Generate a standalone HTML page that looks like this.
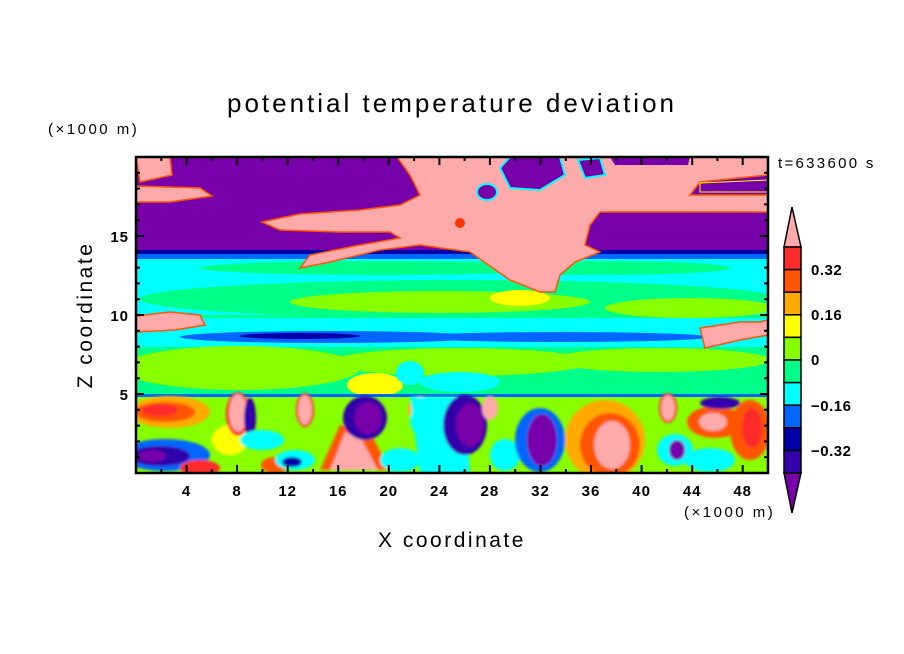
<!DOCTYPE html>
<html><head><meta charset="utf-8"><style>
html,body{margin:0;padding:0;background:#fff;}
svg{display:block;}
text{font-family:"Liberation Sans",sans-serif;fill:#000;}
</style></head><body>
<svg width="904" height="654" viewBox="0 0 904 654" xmlns="http://www.w3.org/2000/svg">
<defs><clipPath id="c"><rect x="136" y="157" width="632" height="316"/></clipPath>
<filter id="b"><feGaussianBlur stdDeviation="1.2"/></filter></defs>
<text x="452" y="112" font-size="26" text-anchor="middle" letter-spacing="3">potential temperature deviation</text>
<text x="48" y="134" font-size="15" letter-spacing="2.5">(×1000 m)</text>
<text x="778" y="168" font-size="15" letter-spacing="2.3">t=633600 s</text>
<g clip-path="url(#c)">
<rect x="136" y="157" width="632" height="316" fill="#00ff88"/>
<rect x="136" y="157" width="632" height="95" fill="#7700aa"/>
<rect x="136" y="250" width="632" height="5" fill="#0000aa"/>
<rect x="136" y="254" width="632" height="6" fill="#0066ff"/>
<rect x="136" y="259" width="632" height="56" fill="#00ffff"/>
<ellipse cx="380" cy="268" rx="180" ry="7" fill="#00ff88"/>
<ellipse cx="600" cy="268" rx="130" ry="7" fill="#00ff88"/>
<ellipse cx="460" cy="299" rx="320" ry="19" fill="#00ff88"/>
<ellipse cx="440" cy="302" rx="150" ry="11" fill="#88ff00"/>
<ellipse cx="520" cy="298" rx="30" ry="8" fill="#ffff00"/>
<ellipse cx="690" cy="308" rx="85" ry="10" fill="#88ff00"/>
<rect x="136" y="318" width="632" height="30" fill="#00ffff"/>
<ellipse cx="330" cy="337" rx="150" ry="6" fill="#0066ff"/>
<ellipse cx="560" cy="337" rx="150" ry="5" fill="#0066ff"/>
<ellipse cx="300" cy="336" rx="60" ry="3" fill="#0000aa"/>
<rect x="136" y="347" width="632" height="48" fill="#00ff88"/>
<ellipse cx="240" cy="368" rx="120" ry="22" fill="#88ff00"/>
<ellipse cx="460" cy="362" rx="130" ry="14" fill="#88ff00"/>
<ellipse cx="660" cy="360" rx="110" ry="12" fill="#88ff00"/>
<ellipse cx="375" cy="385" rx="28" ry="12" fill="#ffff00"/>
<ellipse cx="410" cy="373" rx="14" ry="12" fill="#00ffff"/>
<ellipse cx="460" cy="382" rx="40" ry="10" fill="#00ffff"/>
<path d="M397,157 L768,157 L768,175 L700,182 L690,195 L768,195 L768,212 L600,212 L590,225 L585,245 L600,252 L575,262 L560,275 L555,292 L540,292 L510,280 L470,252 L420,245 L380,250 L330,262 L300,268 L310,255 L360,245 L400,238 L390,232 L340,232 L280,230 L262,222 L300,214 L360,210 L400,205 L420,195 L410,175 Z" fill="#ffaaaa" stroke="#ff5500" stroke-width="1.5"/>
<path d="M136,157 L170,157 L172,175 L140,182 Z" fill="#ffaaaa" stroke="#ff5500" stroke-width="1.5"/>
<path d="M136,186 L200,188 L212,196 L170,202 L136,202 Z" fill="#ffaaaa" stroke="#ff5500" stroke-width="1.5"/>
<path d="M510,157 L560,157 L565,175 L540,190 L510,188 L500,168 Z" fill="#7700aa" stroke="#00ffff" stroke-width="2"/>
<ellipse cx="487" cy="192" rx="10" ry="8" fill="#7700aa" stroke="#00ffff" stroke-width="2"/>
<path d="M610,157 L690,157 L688,165 L615,165 Z" fill="#7700aa"/>
<path d="M700,183 L768,180 L768,192 L700,192 Z" fill="#7700aa" stroke="#ffff00" stroke-width="1"/>
<path d="M578,160 L600,158 L605,175 L585,178 Z" fill="#7700aa" stroke="#00ffff" stroke-width="2"/>
<ellipse cx="460" cy="223" rx="5" ry="5" fill="#ff3300"/>
<path d="M136,316 L170,312 L200,315 L205,325 L175,330 L136,332 Z" fill="#ffaaaa" stroke="#ff5500" stroke-width="1.5"/>
<path d="M700,328 L740,322 L760,322 L768,320 L768,335 L740,340 L705,348 Z" fill="#ffaaaa" stroke="#ff5500" stroke-width="1.5"/>
<rect x="136" y="396" width="632" height="77" fill="#88ff00"/>
<rect x="136" y="394" width="632" height="3" fill="#0066ff"/>
<g filter="url(#b)">
<ellipse cx="170" cy="412" rx="40" ry="16" fill="#ffaa00"/>
<ellipse cx="165" cy="412" rx="30" ry="10" fill="#ff5500"/>
<ellipse cx="160" cy="410" rx="18" ry="6" fill="#ff2a2a"/>
<ellipse cx="165" cy="455" rx="45" ry="16" fill="#0066ff"/>
<ellipse cx="160" cy="456" rx="30" ry="10" fill="#3300aa"/>
<ellipse cx="152" cy="456" rx="14" ry="6" fill="#7700aa"/>
<ellipse cx="200" cy="468" rx="20" ry="8" fill="#ff2a2a"/>
<ellipse cx="230" cy="440" rx="18" ry="15" fill="#ffff00"/>
<ellipse cx="238" cy="414" rx="12" ry="22" fill="#ff2a2a"/>
<ellipse cx="238" cy="413" rx="9" ry="19" fill="#ffaaaa"/>
<ellipse cx="250" cy="418" rx="6" ry="20" fill="#3300aa"/>
<ellipse cx="262" cy="440" rx="22" ry="10" fill="#00ffff"/>
<ellipse cx="275" cy="465" rx="14" ry="8" fill="#ff5500"/>
<ellipse cx="295" cy="460" rx="20" ry="10" fill="#00ffff"/>
<ellipse cx="292" cy="462" rx="10" ry="5" fill="#0000aa"/>
<ellipse cx="305" cy="410" rx="8" ry="16" fill="#ffaaaa" stroke="#ff2a2a" stroke-width="2"/>
<path d="M320,470 L340,425 L370,432 L390,470 Z" fill="#ff5500"/>
<path d="M330,470 L345,432 L362,440 L378,470 Z" fill="#ffaaaa"/>
<ellipse cx="365" cy="418" rx="22" ry="22" fill="#3300aa"/>
<ellipse cx="368" cy="418" rx="14" ry="16" fill="#7700aa"/>
<ellipse cx="400" cy="460" rx="20" ry="12" fill="#00ffff"/>
<ellipse cx="420" cy="410" rx="12" ry="14" fill="#ffaa00"/>
<path d="M410,397 L465,397 L470,473 L420,473 Z" fill="#00ffff"/>
<ellipse cx="430" cy="420" rx="20" ry="20" fill="#00ffff"/>
<ellipse cx="465" cy="425" rx="22" ry="30" fill="#3300aa"/>
<ellipse cx="470" cy="425" rx="14" ry="22" fill="#7700aa"/>
<ellipse cx="490" cy="408" rx="8" ry="12" fill="#ffaaaa"/>
<ellipse cx="505" cy="455" rx="15" ry="16" fill="#00ffff"/>
<ellipse cx="540" cy="440" rx="25" ry="32" fill="#0066ff"/>
<ellipse cx="542" cy="440" rx="15" ry="26" fill="#7700aa"/>
<ellipse cx="605" cy="440" rx="40" ry="40" fill="#ffaa00"/>
<ellipse cx="610" cy="445" rx="30" ry="32" fill="#ff5500"/>
<ellipse cx="612" cy="445" rx="18" ry="24" fill="#ffaaaa"/>
<ellipse cx="668" cy="408" rx="8" ry="14" fill="#ffaaaa" stroke="#ff2a2a" stroke-width="2"/>
<ellipse cx="675" cy="450" rx="18" ry="16" fill="#00ffff"/>
<ellipse cx="677" cy="450" rx="8" ry="10" fill="#7700aa"/>
<ellipse cx="715" cy="422" rx="28" ry="16" fill="#ff5500"/>
<ellipse cx="713" cy="422" rx="14" ry="9" fill="#ffaaaa"/>
<ellipse cx="750" cy="430" rx="20" ry="30" fill="#ff5500"/>
<ellipse cx="752" cy="428" rx="10" ry="20" fill="#ff2a2a"/>
<ellipse cx="710" cy="460" rx="25" ry="12" fill="#00ffff"/>
<ellipse cx="720" cy="403" rx="20" ry="6" fill="#3300aa"/>
</g>
</g>
<rect x="136" y="157" width="632" height="316" fill="none" stroke="#000" stroke-width="2.5"/>
<g stroke="#000" stroke-width="2">
<path d="M161.3,473v-4M186.6,473v-8M211.8,473v-4M237.1,473v-8M262.4,473v-4M287.7,473v-8M313,473v-4M338.2,473v-8M363.5,473v-4M388.8,473v-8M414.1,473v-4M439.4,473v-8M464.6,473v-4M489.9,473v-8M515.2,473v-4M540.5,473v-8M565.8,473v-4M591,473v-8M616.3,473v-4M641.6,473v-8M666.9,473v-4M692.2,473v-8M717.4,473v-4M742.7,473v-8"/>
<path d="M161.3,157v4M186.6,157v8M211.8,157v4M237.1,157v8M262.4,157v4M287.7,157v8M313,157v4M338.2,157v8M363.5,157v4M388.8,157v8M414.1,157v4M439.4,157v8M464.6,157v4M489.9,157v8M515.2,157v4M540.5,157v8M565.8,157v4M591,157v8M616.3,157v4M641.6,157v8M666.9,157v4M692.2,157v8M717.4,157v4M742.7,157v8"/>
<path d="M136,394h8M136,315h8M136,236h8M768,394h-8M768,315h-8M768,236h-8"/>
<path d="M136,457.2h4M136,441.4h4M136,425.6h4M136,409.8h4M136,378.2h4M136,362.4h4M136,346.6h4M136,330.8h4M136,299.2h4M136,283.4h4M136,267.6h4M136,251.8h4M136,220.2h4M136,204.4h4M136,188.6h4M136,172.8h4"/>
<path d="M768,457.2h-4M768,441.4h-4M768,425.6h-4M768,409.8h-4M768,378.2h-4M768,362.4h-4M768,346.6h-4M768,330.8h-4M768,299.2h-4M768,283.4h-4M768,267.6h-4M768,251.8h-4M768,220.2h-4M768,204.4h-4M768,188.6h-4M768,172.8h-4"/>
</g>
<g font-size="15" text-anchor="middle" font-weight="bold" letter-spacing="1">
<text x="186.6" y="496">4</text><text x="237.1" y="496">8</text><text x="287.7" y="496">12</text><text x="338.2" y="496">16</text><text x="388.8" y="496">20</text><text x="439.4" y="496">24</text><text x="489.9" y="496">28</text><text x="540.5" y="496">32</text><text x="591" y="496">36</text><text x="641.6" y="496">40</text><text x="692.2" y="496">44</text><text x="742.7" y="496">48</text>
</g>
<g font-size="15" text-anchor="end" font-weight="bold" letter-spacing="1">
<text x="129" y="400">5</text><text x="129" y="321">10</text><text x="129" y="242">15</text>
</g>
<text x="684" y="517" font-size="15" letter-spacing="2.5">(×1000 m)</text>
<text x="452" y="547" font-size="21" text-anchor="middle" letter-spacing="2.5">X coordinate</text>
<text transform="translate(92,315) rotate(-90)" font-size="21" text-anchor="middle" letter-spacing="2.5">Z coordinate</text>
<g stroke="#000" stroke-width="1.5">
<path d="M792,207 L801,247 L784,247 Z" fill="#ffaaaa"/>
<rect x="784" y="247" width="17" height="22.6" fill="#ff2a2a"/>
<rect x="784" y="269.6" width="17" height="22.6" fill="#ff5500"/>
<rect x="784" y="292.2" width="17" height="22.6" fill="#ffaa00"/>
<rect x="784" y="314.8" width="17" height="22.6" fill="#ffff00"/>
<rect x="784" y="337.4" width="17" height="22.6" fill="#88ff00"/>
<rect x="784" y="360" width="17" height="22.6" fill="#00ff88"/>
<rect x="784" y="382.6" width="17" height="22.6" fill="#00ffff"/>
<rect x="784" y="405.2" width="17" height="22.6" fill="#0066ff"/>
<rect x="784" y="427.8" width="17" height="22.6" fill="#0000aa"/>
<rect x="784" y="450.4" width="17" height="22.6" fill="#3300aa"/>
<path d="M784,473 L801,473 L792,513 Z" fill="#7700aa"/>
</g>
<g font-size="15" font-weight="bold" letter-spacing="0.5">
<text x="811" y="275">0.32</text><text x="811" y="320">0.16</text><text x="811" y="365">0</text><text x="811" y="411">−0.16</text><text x="811" y="456">−0.32</text>
</g>
</svg>
</body></html>
